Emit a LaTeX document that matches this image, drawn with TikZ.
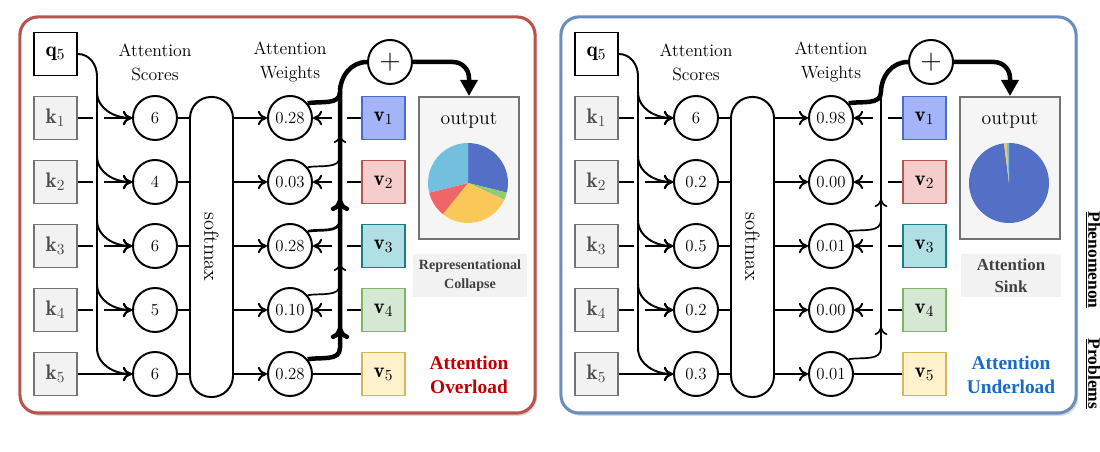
\documentclass[tikz,border=0pt]{standalone}
\usepackage{fontspec}
\usepackage{graphicx}
\newfontfamily\capfont{Liberation Serif}
\usetikzlibrary{arrows.meta,positioning,calc,shadows}
\definecolor{overred}{HTML}{B85450}
\definecolor{underblue}{HTML}{6C8EBF}
\definecolor{alertred}{HTML}{C00000}
\definecolor{alertblue}{HTML}{1A6BC8}
\definecolor{vonefill}{HTML}{A3B4F9}
\definecolor{voneline}{HTML}{4A6AD0}
\definecolor{vtwofill}{HTML}{F5CDCC}
\definecolor{vtwoline}{HTML}{B85450}
\definecolor{vthreefill}{HTML}{B1E0E4}
\definecolor{vthreeline}{HTML}{167F87}
\definecolor{vfourfill}{HTML}{D5E8D4}
\definecolor{vfourline}{HTML}{82B366}
\definecolor{vfivefill}{HTML}{FFF2CC}
\definecolor{vfiveline}{HTML}{D6B656}
\definecolor{pieblue}{HTML}{5470C6}
\definecolor{piegreen}{HTML}{91CC75}
\definecolor{pieyellow}{HTML}{FAC858}
\definecolor{piered}{HTML}{EE6666}
\definecolor{piecyan}{HTML}{73C0DE}

\begin{document}
\begin{tikzpicture}[x=0.025cm, y=0.025cm,
    panel/.style={rectangle, line width=2.2pt, rounded corners=0.45cm, fill=white, minimum width=12.875cm, minimum height=9.9cm, drop shadow={shadow xshift=0.05cm, shadow yshift=-0.07cm, fill=black!40, opacity=0.35}},
    keybox/.style={rectangle, draw=black!55, fill=gray!10, text=black!70, line width=1.4pt, minimum size=1.075cm, inner sep=0pt, font=\fontsize{15}{18}\selectfont},
    qbox/.style={keybox, draw=black, fill=white, text=black},
    valbox/.style={rectangle, line width=1.4pt, minimum size=1.075cm, inner sep=0pt, font=\fontsize{15}{18}\selectfont},
    val1/.style={fill=vonefill, draw=voneline},
    val2/.style={fill=vtwofill, draw=vtwoline},
    val3/.style={fill=vthreefill, draw=vthreeline},
    val4/.style={fill=vfourfill, draw=vfourline},
    val5/.style={fill=vfivefill, draw=vfiveline},
    score/.style={circle, draw, line width=1.4pt, minimum size=1.1cm, inner sep=0pt, font=\fontsize{12}{14}\selectfont},
    sumnode/.style={score, font=\fontsize{22}{22}\selectfont},
    pill/.style={rectangle, draw, line width=1.4pt, rounded corners=0.53cm, minimum width=1.075cm, minimum height=7.5cm, inner sep=0pt, font=\fontsize{14.5}{17}\selectfont},
    outbox/.style={rectangle, draw=black!55, fill=gray!8, line width=1.4pt, minimum width=2.5cm, minimum height=3.55cm},
    headtext/.style={align=center, font=\fontsize{12.6}{17}\selectfont},
    capbox/.style={rectangle, fill=gray!10, text=black!75, align=center, minimum height=1.075cm, inner sep=1pt, font=\capfont\bfseries\fontsize{10}{13}\selectfont},
    alert/.style={align=center, font=\capfont\bfseries\fontsize{13.8}{17.5}\selectfont},
    side/.style={rotate=-90, font=\capfont\bfseries\fontsize{12.4}{15}\selectfont},
    link/.style={line width=1.4pt},
    flow/.style={link, -{Computer Modern Rightarrow[length=2.3mm,width=3.6mm]}},
    light/.style={line width=1.2pt},
    medium/.style={line width=1.9pt},
    heavy/.style={line width=3.2pt},
    outflow/.style={heavy, rounded corners=0.4cm, -{Triangle[length=4mm,width=4.2mm]}},
    upthin/.style={light, -{Computer Modern Rightarrow[length=2mm,width=3.2mm]}},
    upthick/.style={heavy, -{Computer Modern Rightarrow[length=3mm,width=4.6mm]}}
]
\useasboundingbox (0,0) rectangle (1100,452);

% the two panels
\node[panel, draw=overred] (Lpanel) at (277.5,237) {};
\node[panel, draw=underblue] (Rpanel) at (818.5,237) {};

% scores and weights
\foreach \i/\s/\w in {1/6/0.28, 2/4/0.03, 3/6/0.28, 4/5/0.10, 5/6/0.28}{
    \node[score] (Ls\i) at (155,{398-64*\i}) {\s};
    \node[score] (Lw\i) at (290,{398-64*\i}) {\w};
}
\foreach \i/\s/\w in {1/6/0.98, 2/0.2/0.00, 3/0.5/0.01, 4/0.2/0.00, 5/0.3/0.01}{
    \node[score] (Rs\i) at (696,{398-64*\i}) {\s};
    \node[score] (Rw\i) at (831,{398-64*\i}) {\w};
}

% shared parts of both panels
\foreach \p/\dx in {L/0, R/541}{
    \node[qbox] (\p q) at ({55.5+\dx},398) {$\mathbf{q}_5$};
    \node[headtext] (\p hs) at ({155+\dx},390) {Attention\\Scores};
    \node[headtext] (\p hw) at ({290+\dx},390) {Attention\\Weights};
    \node[pill] (\p sm) at ({211.5+\dx},205) {\rotatebox{-90}{softmax}};
    \node[sumnode] (\p sum) at ({390+\dx},390) {$+$};
    \node[outbox] (\p out) at ({469+\dx},284) {};
    \node[font=\fontsize{14}{16}\selectfont] (\p otxt) at ({469+\dx},332) {output};
    \coordinate (\p qbus) at ({97+\dx},376);
    \foreach \i in {1,...,5}{
        \node[keybox] (\p k\i) at ({55.5+\dx},{398-64*\i}) {$\mathbf{k}_{\i}$};
        \node[valbox, val\i] (\p v\i) at ({383.5+\dx},{398-64*\i}) {$\mathbf{v}_{\i}$};
        \coordinate (\p b\i) at ({97+\dx},{424-64*\i});
        \draw[flow] (\p b\i) to[out=-90,in=180] (\p s\i);
        \draw[link] (\p s\i) -- (\p s\i.east -| \p sm.west);
        \draw[flow] (\p w\i.west -| \p sm.east) -- (\p w\i);
    }
    \foreach \i in {1,...,4}{
        \draw[link] (\p k\i.east) -- ($(\p k\i.east)+(15,0)$);
        \draw[flow] ($(\p k\i.east)+(26,0)$) -- (\p s\i);
        \draw[link] (\p v\i.west) -- ($(\p v\i.west)+(-14,0)$);
        \draw[flow] ($(\p v\i.west)+(-29,0)$) -- (\p w\i);
    }
    \draw[link] (\p q.east) to[out=0,in=90] (\p qbus) -- (\p b5);
    \draw[flow] (\p k5) -- (\p s5);
    \draw[link] (\p v5) -- (\p w5);
    \draw[outflow] (\p sum.east) -| (\p out.north);
    \foreach \i in {1,...,5}{
        \coordinate (\p j\i) at ({340+\dx},{424-64*\i});
        \coordinate (\p a\i) at ({340+\dx},{381-64*\i});
    }
}

% weighted sum, overload
\draw[heavy] (Lw5.40) to[out=10,in=-90] (Lj5) -- (Lj1) to[out=90,in=180] (Lsum.west);
\draw[heavy] (Lw1.40) to[out=10,in=-90] (Lj1);
\draw[light] (Lw2.40) to[out=10,in=-90] (Lj2);
\draw[medium] (Lw3.40) to[out=10,in=-90] (Lj3);
\draw[light] (Lw4.40) to[out=10,in=-90] (Lj4);
\draw[upthin] ($(La1)+(0,-10)$) -- (La1);
\draw[upthick] ($(La2)+(0,-10)$) -- (La2);
\draw[upthin] ($(La3)+(0,-10)$) -- (La3);
\draw[upthick] ($(La4)+(0,-10)$) -- (La4);

% weighted sum, underload
\draw[light] (Rw5.40) to[out=10,in=-90] (Rj5) -- (Rj1);
\draw[light] (Rw3.40) to[out=10,in=-90] (Rj3);
\draw[heavy] (Rw1.40) to[out=10,in=-90] (Rj1) to[out=90,in=180] (Rsum.west);
\draw[upthin] ($(Ra2)+(0,-10)$) -- (Ra2);
\draw[upthin] ($(Ra4)+(0,-10)$) -- (Ra4);

% pies
\coordinate (Lpie) at (468,269);
\coordinate (Rpie) at (1009,269);
\foreach \a/\b/\c in {90/-13.9/pieblue, -13.9/-25/piegreen, -25/-128.9/pieyellow, -128.9/-166/piered, -166/-270/piecyan}
    \fill[\c] (Lpie) -- ++(\a:40) arc[start angle=\a, end angle=\b, radius=40] -- cycle;
\foreach \a/\b/\c in {90/-262.8/pieblue, -262.8/-266.4/pieyellow, -266.4/-270/piecyan}
    \fill[\c] (Rpie) -- ++(\a:40) arc[start angle=\a, end angle=\b, radius=40] -- cycle;

% phenomena and problems
\node[capbox, minimum width=2.85cm] (Lcap) at (470,176.5) {Representational\\Collapse};
\node[capbox, minimum width=2.5cm, font=\capfont\bfseries\fontsize{12}{16}\selectfont] (Rcap) at (1011,176.5) {Attention\\Sink};
\node[alert, text=alertred] (Lprob) at (469,77) {Attention\\Overload};
\node[alert, text=alertblue] (Rprob) at (1011,77) {Attention\\Underload};
\node[side] (phen) at (1093,192) {\underline{Phenomenon}};
\node[side] (prob) at (1093,78) {\underline{Problems}};
\end{tikzpicture}
\end{document}
